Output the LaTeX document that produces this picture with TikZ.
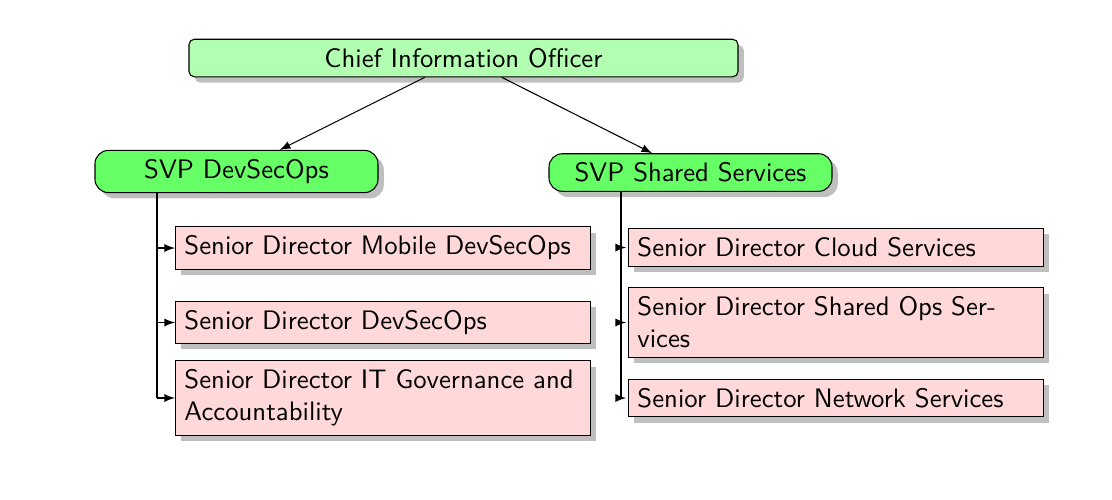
\documentclass[tikz,border=0pt]{standalone}
\usetikzlibrary{shadows,arrows}
\begin{document}
\begin{tikzpicture}[x=0.374pt,y=-0.374pt,
  every node/.style={font=\sffamily},
  ciobox/.style={draw=black, fill=green!30, rounded corners=2pt, drop shadow,
    minimum width={549*0.374pt}},
  svpbox/.style={draw=black, fill=green!60, rounded corners=5pt, drop shadow,
    minimum width={283*0.374pt}},
  dirbox/.style={draw=black, fill=red!15, drop shadow, anchor=west,
    text width={397*0.374pt}, align=left},
  conn/.style={draw=black, line width=0.4pt},
  arr/.style={conn, -latex}]
\useasboundingbox (0,0) rectangle (1112,499);
% top
\node[ciobox] (cio) at (463.5,58) {Chief Information Officer};
\node[svpbox] (svpA) at (236.5,171.5) {SVP DevSecOps};
\node[svpbox] (svpB) at (690.5,172.5) {SVP Shared Services};
% left column
\node[dirbox] (cA1) at (175,248) {Senior Director Mobile DevSecOps};
\node[dirbox] (cA2) at (175,322.5) {Senior Director DevSecOps};
\node[dirbox] (cA3) at (175,398) {Senior Director IT Governance and Accountability};
% right column
\node[dirbox] (cB1) at (628,247.5) {Senior Director Cloud Services};
\node[dirbox] (cB2) at (628,322.5) {Senior Director Shared Ops Services};
\node[dirbox] (cB3) at (628,398) {Senior Director Network Services};
% connectors
\draw[arr] (cio) -- (svpA);
\draw[arr] (cio) -- (svpB);
\coordinate (vA) at (157,0);
\coordinate (vB) at (621,0);
\draw[conn] (svpA.south -| vA) -- (vA |- cA3.west);
\draw[arr] (vA |- cA1.west) -- (cA1.west);
\draw[arr] (vA |- cA2.west) -- (cA2.west);
\draw[arr] (vA |- cA3.west) -- (cA3.west);
\draw[conn] (svpB.south -| vB) -- (vB |- cB3.west);
\draw[arr, shorten >=0.7pt] (vB |- cB1.west) -- (cB1.west);
\draw[arr, shorten >=0.7pt] (vB |- cB2.west) -- (cB2.west);
\draw[arr, shorten >=0.7pt] (vB |- cB3.west) -- (cB3.west);
\end{tikzpicture}
\end{document}
